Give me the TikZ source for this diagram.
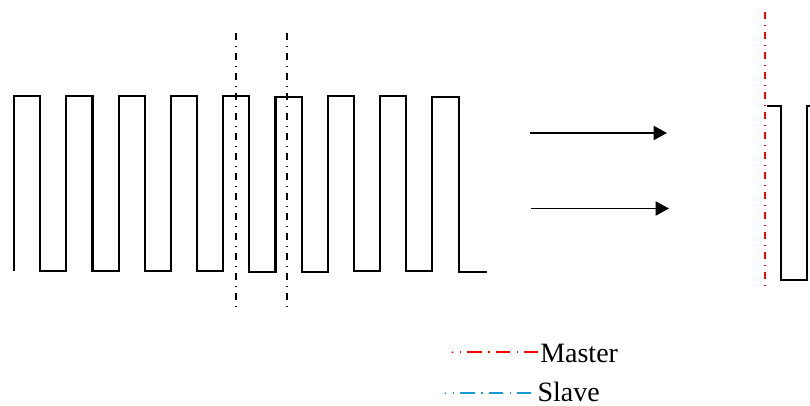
\documentclass[tikz,border=0pt]{standalone}
\usepackage{fontspec}
\setmainfont{Liberation Serif}
\usetikzlibrary{arrows.meta}
\definecolor{slaveblue}{RGB}{20,155,210}
\begin{document}
\begin{tikzpicture}[x=0.75pt,y=-0.75pt,
  wave/.style={line width=1.6pt, line join=miter},
  cutline/.style={line width=1.7pt, dash pattern=on 5.6pt off 4pt on 1pt off 4.4pt},
  legline/.style={line width=1.5pt, dash pattern=on 1pt off 4.5pt on 10.7pt off 5pt},
  flow/.style={line width=1.4pt, -{Triangle[length=10pt,width=10.5pt]}},
  legtext/.style={anchor=base west, inner sep=0pt, font=\fontsize{21}{25}\selectfont}]
\useasboundingbox (0,0) rectangle (810,406);

% left waveform
\draw[wave] (14,271) -- (14,96) -- (40.2,96) -- (40.2,271) -- (66.3,271) -- (66.3,96)
  -- (92.5,96) -- (92.5,271) -- (118.6,271) -- (118.6,96) -- (144.8,96) -- (144.8,271)
  -- (170.9,271) -- (170.9,96) -- (197.1,96) -- (197.1,271) -- (223.2,271) -- (223.2,96)
  -- (249.4,96) -- (249.4,272) -- (275.5,272) -- (275.5,97) -- (301.7,97) -- (301.7,272)
  -- (327.8,272) -- (327.8,96) -- (354,96) -- (354,271) -- (380.1,271) -- (380.1,96)
  -- (406.3,96) -- (406.3,271) -- (432.4,271) -- (432.4,97) -- (458.6,97) -- (458.6,272)
  -- (486.5,272);

% cut lines
\coordinate (c1t) at (235.7,33);
\coordinate (c1b) at (235.7,308);
\coordinate (c2t) at (286.7,33);
\coordinate (c2b) at (286.7,308);
\draw[cutline] (c1t) -- (c1b);
\draw[cutline] (c2t) -- (c2b);

% arrows
\coordinate (a1s) at (530,133);
\coordinate (a1e) at (667,133);
\coordinate (a2s) at (531,208.5);
\coordinate (a2e) at (669,208.5);
\draw[flow] (a1s) -- (a1e);
\draw[flow] (a2s) -- (a2e);

% right part
\coordinate (rt) at (765,12);
\coordinate (rb) at (765,287);
\draw[cutline, red] (rt) -- (rb);
\draw[wave] (767.3,106) -- (781,106) -- (781,280) -- (807.3,280) -- (807.3,106) -- (812,106);

% legend
\node[legtext] (m) at (540,362.5) {Master};
\node[legtext] (s) at (537.3,401.8) {Slave};
\coordinate (lm) at (460,352.3);
\coordinate (lmd) at (452.3,352.3);
\coordinate (ls) at (453,393.3);
\coordinate (lsd) at (445.3,393.3);
\draw[legline, red] (lm) -- (lm -| m.west);
\fill[red] (lmd) circle (0.75pt);
\draw[legline, slaveblue] (ls) -- (ls -| s.west);
\fill[slaveblue] (lsd) circle (0.75pt);
\end{tikzpicture}
\end{document}
